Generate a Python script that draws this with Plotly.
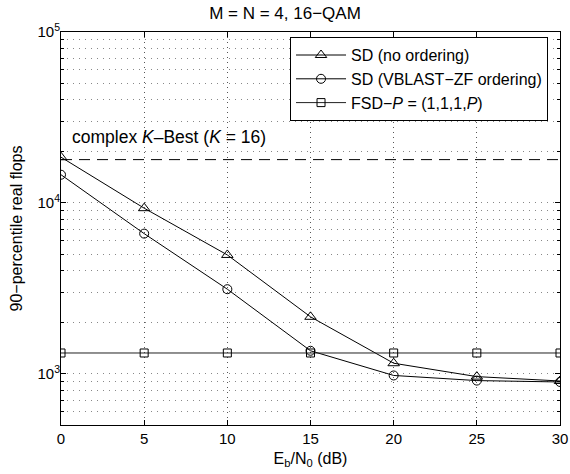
import numpy as np
import plotly.graph_objects as go

# ---- data ----
snr_db = [0, 5, 10, 15, 20, 25, 30]
sd_no_ordering = [18500, 9300, 4950, 2150, 1150, 960, 905]
sd_vblast = [14600, 6600, 3120, 1360, 975, 910, 893]
fsd = [1320, 1320, 1320, 1320, 1320, 1320, 1320]
kbest_flops = 17900
y_major_ticks = [1e3, 1e4, 1e5]
y_major_text = ["10<sup>3</sup>", "10<sup>4</sup>", "10<sup>5</sup>"]
x_ticks = [0, 5, 10, 15, 20, 25, 30]

FONT = "Liberation Sans, Arial, Helvetica, sans-serif"

minor_vals = [m * 10 ** k for k in (2, 3, 4) for m in range(2, 10) if 500 <= m * 10 ** k <= 1e5]

W, H = 570, 474

fig = go.Figure()

fig.add_trace(go.Scatter(
    x=[snr_db[0], snr_db[-1]], y=[kbest_flops, kbest_flops],
    mode="lines", line=dict(color="black", width=1, dash="11px,7px"),
    showlegend=False, hoverinfo="skip"))

fig.add_trace(go.Scatter(
    x=snr_db, y=sd_no_ordering, mode="lines+markers", name="SD (no ordering)",
    line=dict(color="black", width=1),
    marker=dict(symbol="triangle-up-open", size=10, color="black", line=dict(width=1, color="black"))))

fig.add_trace(go.Scatter(
    x=snr_db, y=sd_vblast, mode="lines+markers", name="SD (VBLAST−ZF ordering)",
    line=dict(color="black", width=1),
    marker=dict(symbol="circle-open", size=9, color="black", line=dict(width=1, color="black"))))

fig.add_trace(go.Scatter(
    x=snr_db, y=fsd, mode="lines+markers", name="FSD−<i>P</i> = (1,1,1,<i>P</i>)",
    line=dict(color="#222", width=1),
    marker=dict(symbol="square-open", size=8, color="black", line=dict(width=1, color="black"))))

fig.add_annotation(
    x=snr_db[0], y=np.log10(kbest_flops), xref="x", yref="y",
    text="complex <i>K</i>–Best (<i>K</i> = 16)", showarrow=False,
    xanchor="left", yanchor="bottom", xshift=9, yshift=11,
    font=dict(family=FONT, size=17.5, color="black"))

fig.update_layout(
    width=W, height=H,
    margin=dict(l=61, r=10, t=32, b=49),
    paper_bgcolor="white", plot_bgcolor="white",
    font=dict(family=FONT, size=15, color="black"),
    title=dict(text="M = N = 4, 16−QAM", x=0.5, xanchor="center",
               y=1 - 13 / H, yanchor="middle", yref="container",
               font=dict(family=FONT, size=17, color="black")),
    showlegend=True,
    legend=dict(x=0.976, xanchor="right", y=0.987, yanchor="top",
                bgcolor="white", bordercolor="black", borderwidth=1,
                font=dict(family=FONT, size=16, color="black"),
                itemwidth=50, tracegroupgap=0),
)

fig.update_xaxes(
    range=[0, 30], tickvals=x_ticks, ticks="inside", ticklen=5, tickcolor="black",
    showline=True, linecolor="black", linewidth=1, mirror="ticks",
    showgrid=True, gridcolor="#555", griddash="1px,4px", gridwidth=1,
    zeroline=False, tickfont=dict(size=15), automargin=False,
    title=dict(text="E<sub>b</sub>/N<sub>0</sub> (dB)", standoff=6, font=dict(size=16)))

fig.update_yaxes(
    type="log", range=[np.log10(500), 5],
    tickvals=y_major_ticks, ticktext=y_major_text,
    ticks="inside", ticklen=5, tickcolor="black",
    showline=True, linecolor="black", linewidth=1, mirror="ticks",
    showgrid=True, gridcolor="#888", griddash="1px,5px", gridwidth=1,
    zeroline=False, tickfont=dict(size=15), ticklabelstandoff=-3, automargin=False,
    minor=dict(tickvals=minor_vals, ticks="inside", ticklen=3, tickcolor="black",
               showgrid=True, gridcolor="#888", griddash="1px,5px", gridwidth=1),
    title=dict(text="90−percentile real flops", standoff=10, font=dict(size=16)))

fig.write_html(
    "out.html",
    config={"displayModeBar": False},
    post_script="document.body.style.margin='0';document.body.style.overflow='hidden';",
)
